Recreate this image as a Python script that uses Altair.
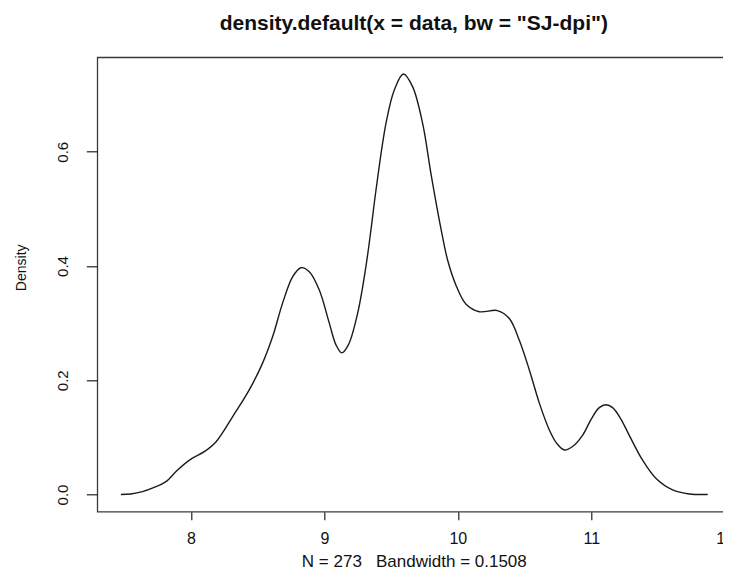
import altair as alt
import pandas as pd

x_vals = [7.475, 7.55, 7.637, 7.72, 7.81, 7.9, 8.0, 8.1, 8.187, 8.312, 8.437, 8.537,
          8.612, 8.687, 8.762, 8.825, 8.887, 8.962, 9.037, 9.087, 9.13, 9.18, 9.25,
          9.312, 9.349, 9.387, 9.462, 9.524, 9.592, 9.661, 9.736, 9.8, 9.874,
          9.924, 9.987, 10.062, 10.161, 10.298, 10.386, 10.461, 10.536, 10.611, 10.686,
          10.74, 10.798, 10.86, 10.936, 11.0, 11.06, 11.111, 11.16, 11.22, 11.286, 11.385,
          11.486, 11.61, 11.735, 11.873]
density = [0.0, 0.001, 0.005, 0.012, 0.022, 0.043, 0.062, 0.075, 0.092, 0.136, 0.183, 0.230,
           0.276, 0.335, 0.381, 0.397, 0.390, 0.358, 0.300, 0.262, 0.248, 0.262, 0.318,
           0.400, 0.463, 0.533, 0.650, 0.708, 0.736, 0.714, 0.650, 0.560, 0.465,
           0.410, 0.366, 0.333, 0.320, 0.322, 0.308, 0.270, 0.218, 0.160, 0.113,
           0.090, 0.078, 0.084, 0.104, 0.132, 0.152, 0.157, 0.152, 0.133, 0.103, 0.060,
           0.028, 0.008, 0.001, 0.0]
x_ticks = [8, 9, 10, 11, 12]
y_ticks = [0.0, 0.2, 0.4, 0.6]
title_text = 'density.default(x = data, bw = "SJ-dpi")'
sub_text = "N = 273\u00a0\u00a0\u00a0Bandwidth = 0.1508"

df = pd.DataFrame({"x": x_vals, "density": density})

FONT = "Liberation Sans"

chart = alt.Chart(df).mark_line(
    color="#1a1a1a", strokeWidth=1.4, interpolate="catmull-rom", clip=True
).encode(
    x=alt.X("x:Q", scale=alt.Scale(domain=[7.2985, 12.042], nice=False, zero=False),
            axis=alt.Axis(values=x_ticks, format="d", title=sub_text, grid=False,
                          domain=False, tickSize=8, tickColor="#222", tickWidth=1.2,
                          labelPadding=11, labelFontSize=16, labelFont=FONT,
                          labelColor="#111", labelFlush=False,
                          titleFont=FONT, titleFontSize=17, titleFontWeight="normal",
                          titleColor="#111", titleBaseline="alphabetic", titleY=54.5,
                          titleAnchor="middle")),
    y=alt.Y("density:Q", scale=alt.Scale(domain=[-0.0301, 0.7653], nice=False, zero=False),
            axis=alt.Axis(values=y_ticks, format=".1f", title="Density", grid=False,
                          domain=False, tickSize=11, tickColor="#222", tickWidth=1.2,
                          labelAngle=270, labelAlign="center", labelBaseline="bottom",
                          labelPadding=16, labelFontSize=15, labelFont=FONT,
                          labelColor="#111", labelFlush=False,
                          titleFont=FONT, titleFontSize=14, titleFontWeight="normal",
                          titleColor="#111", titleAngle=270, titleAlign="center",
                          titleBaseline="alphabetic", titleX=-71.5, titleY=210)),
).properties(
    width=633,
    height=454.4,
    background="white",
    title=alt.TitleParams(title_text, font=FONT, fontSize=21, fontWeight="bold",
                          color="#111", anchor="middle", offset=23.5),
    autosize=alt.AutoSizeParams(type="none"),
    padding={"left": 89.3, "top": 49.3, "right": -7.3, "bottom": 58.3},
).configure_view(
    stroke="#3a3a3a", strokeWidth=1.3
)

chart.save("out.html", embed_options={"renderer": "svg", "actions": False})
